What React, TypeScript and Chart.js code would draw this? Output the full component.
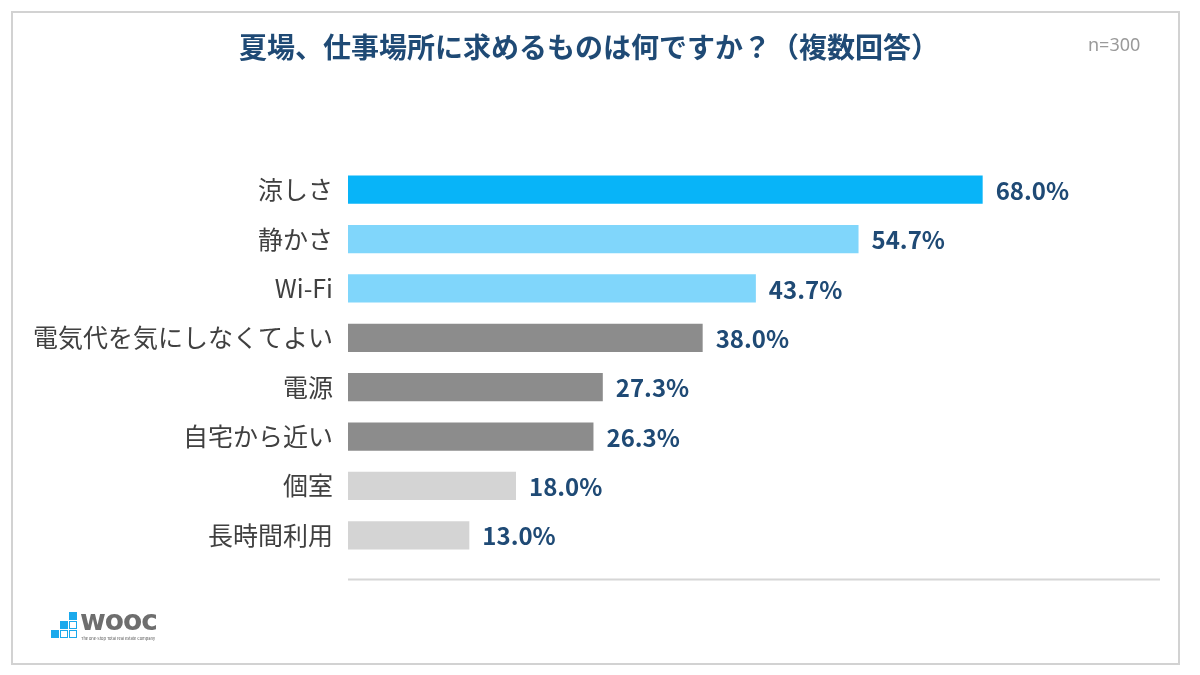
import React, { useEffect, useRef } from 'react';
import { Chart, registerables } from 'chart.js';

Chart.register(...registerables);

const categories = ['涼しさ', '静かさ', 'Wi-Fi', '電気代を気にしなくてよい', '電源', '自宅から近い', '個室', '長時間利用'];
const values = [68.0, 54.7, 43.7, 38.0, 27.3, 26.3, 18.0, 13.0];
const barColors = ['#08b4f8', '#80d6fb', '#80d6fb', '#8c8c8c', '#8c8c8c', '#8c8c8c', '#d4d4d4', '#d4d4d4'];
const axisMax = 87;

const FONT = "'Noto Sans CJK JP', 'Noto Sans', sans-serif";

// value labels at the end of each bar
const valueLabels = {
  id: 'valueLabels',
  afterDatasetsDraw(chart: Chart) {
    const { ctx } = chart;
    const meta = chart.getDatasetMeta(0);
    ctx.save();
    ctx.font = `bold 24px ${FONT}`;
    ctx.fillStyle = '#1f4a75';
    ctx.textAlign = 'left';
    ctx.textBaseline = 'middle';
    meta.data.forEach((bar: any, i: number) => {
      ctx.fillText(values[i].toFixed(1) + '%', bar.x + 13, bar.y + 1);
    });
    ctx.restore();
  }
};

// baseline drawn a little under the last bar
const baseLine = {
  id: 'baseLine',
  afterDraw(chart: Chart) {
    const { ctx, chartArea } = chart;
    const y = chartArea.bottom + 19.5;
    ctx.save();
    ctx.strokeStyle = '#d6d6d6';
    ctx.lineWidth = 2;
    ctx.beginPath();
    ctx.moveTo(chartArea.left, y);
    ctx.lineTo(chartArea.right, y);
    ctx.stroke();
    ctx.restore();
  }
};

const App: React.FC = () => {
  const canvasRef = useRef<HTMLCanvasElement>(null);

  useEffect(() => {
    if (!canvasRef.current) return;
    const chart = new Chart(canvasRef.current, {
      type: 'bar',
      data: {
        labels: categories,
        datasets: [{
          data: values,
          backgroundColor: barColors,
          borderWidth: 0,
          barPercentage: 0.57,
          categoryPercentage: 1
        }]
      },
      options: {
        indexAxis: 'y',
        animation: false,
        responsive: false,
        devicePixelRatio: 1,
        layout: { padding: { top: 165, right: 40, bottom: 115, left: 0 } },
        plugins: { legend: { display: false }, tooltip: { enabled: false } },
        scales: {
          x: { display: false, min: 0, max: axisMax },
          y: {
            grid: { display: false, drawTicks: false },
            border: { display: false },
            ticks: { color: '#404040', padding: 15, font: { family: FONT, size: 25 } },
            afterFit: (scale: any) => { scale.width = 348; }
          }
        }
      },
      plugins: [valueLabels, baseLine]
    });
    return () => { chart.destroy(); };
  }, []);

  return (
    <div style={{ position: 'absolute', left: 0, top: 0, width: 1200, height: 675, background: '#fff', fontFamily: FONT }}>
      <div style={{ position: 'absolute', left: 11, top: 11, width: 1165, height: 650, border: '2px solid #d2d2d2' }} />
      <canvas ref={canvasRef} width={1200} height={675} style={{ position: 'absolute', left: 0, top: 0 }} />
      <div style={{ position: 'absolute', left: 0, top: 26, width: 1178, textAlign: 'center', fontSize: 28, fontWeight: 'bold', color: '#1f4a75' }}>
        夏場、仕事場所に求めるものは何ですか？（複数回答）
      </div>
      <div style={{ position: 'absolute', left: 1088, top: 32, fontSize: 18, color: '#9a9a9a', fontFamily: "'Noto Sans', sans-serif" }}>n=300</div>
      {/* logo */}
      <div style={{ position: 'absolute', left: 51, top: 612 }}>
        {[[18, 0], [9, 9], [18, 9], [0, 18], [9, 18], [18, 18]].map(([x, y], i) => (
          <div key={i} style={{
            position: 'absolute', left: x, top: y, width: 8, height: 8,
            background: i === 2 || i === 4 || i === 5 ? '#fff' : '#1aa9ec',
            border: i === 2 || i === 4 || i === 5 ? '1.5px solid #1aa9ec' : 'none', boxSizing: 'border-box'
          }} />
        ))}
        <div style={{ position: 'absolute', left: 29, top: -8, fontSize: 28, fontWeight: 'bold', color: '#6e6e6e', fontFamily: "'DejaVu Sans', sans-serif", letterSpacing: -1 }}>wooc</div>
        <div style={{ position: 'absolute', left: 30, top: 23, fontSize: 4, color: '#555', whiteSpace: 'nowrap' }}>The one-Stop Total real estate Company</div>
      </div>
    </div>
  );
};

export default App;
